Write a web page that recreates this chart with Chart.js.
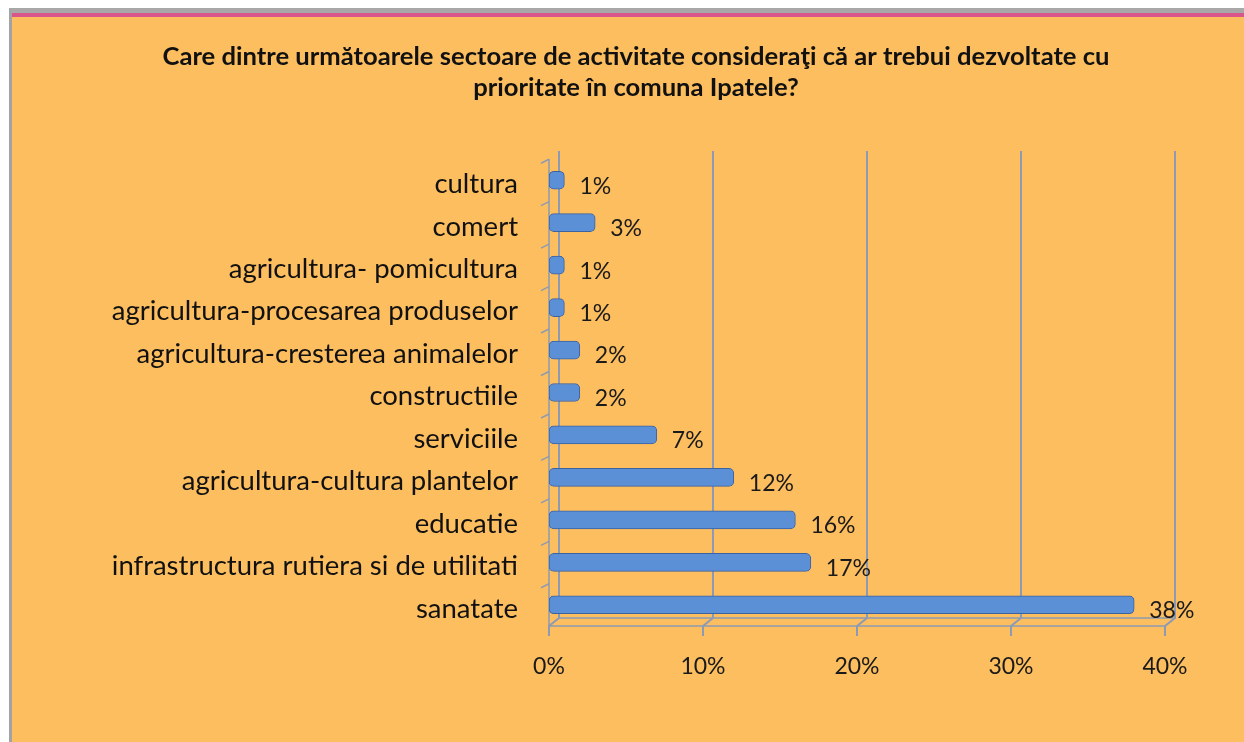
<!DOCTYPE html>
<html>
<head>
<meta charset="utf-8">
<script src="https://cdn.jsdelivr.net/npm/chart.js@4.4.0/dist/chart.umd.min.js"></script>
<style>
  html, body { margin: 0; padding: 0; background: #fff; }
  body { width: 1244px; height: 742px; position: relative; overflow: hidden; }
  .frame { position: absolute; left: 9px; top: 8px; right: 0; bottom: 0;
           border-left: 3px solid #a3a3a3; border-top: 5px solid #a8a8a8; background: #fdbe5f; }
  .pink { position: absolute; left: 0; right: 0; top: 0; height: 4px; background: #d8568a; }
  #chart { position: absolute; left: 0; top: 0; }
</style>
</head>
<body>
<div class="frame"><div class="pink"></div></div>
<canvas id="chart" width="1244" height="742"></canvas>
<script>
// answers, top to bottom
const categories = ['cultura', 'comert', 'agricultura- pomicultura', 'agricultura-procesarea produselor',
  'agricultura-cresterea animalelor', 'constructiile', 'serviciile', 'agricultura-cultura plantelor',
  'educatie', 'infrastructura rutiera si de utilitati', 'sanatate'];
const percents = [1, 3, 1, 1, 2, 2, 7, 12, 16, 17, 38];
const xTicks = [0, 10, 20, 30, 40];

const titleLines = ['Care dintre următoarele sectoare de activitate consideraţi că ar trebui dezvoltate cu',
  'prioritate în comuna Ipatele?'];

const FONT = 'Lato, Carlito, Calibri, "Open Sans", sans-serif';

const titlePlugin = {
  id: 'titleText',
  afterDraw(chart) {
    const ctx = chart.ctx;
    ctx.save();
    ctx.fillStyle = '#111';
    ctx.font = 'bold 25.6px ' + FONT;
    ctx.textAlign = 'center';
    ctx.textBaseline = 'middle';
    ctx.fillText(titleLines[0], 636, 57);
    ctx.fillText(titleLines[1], 636, 88);
    ctx.restore();
  }
};

// back wall grid lines, drawn with a small depth offset like the 3D original
const backWall = {
  id: 'backWall',
  beforeDatasetsDraw(chart) {
    const ctx = chart.ctx, a = chart.chartArea, x = chart.scales.x;
    const dx = 10, dy = 8;
    ctx.save();
    ctx.strokeStyle = '#8d9ab3';
    ctx.lineWidth = 2;
    xTicks.forEach(v => {
      const px = x.getPixelForValue(v);
      ctx.beginPath();
      ctx.moveTo(px + dx, a.top - dy);
      ctx.lineTo(px + dx, a.bottom - dy);
      ctx.lineTo(px, a.bottom);
      ctx.lineTo(px, a.bottom + 10);
      ctx.stroke();
    });
    // floor front edge and left wall
    ctx.lineWidth = 1.5;
    ctx.beginPath();
    ctx.moveTo(x.getPixelForValue(0), a.bottom);
    ctx.lineTo(x.getPixelForValue(40), a.bottom);
    ctx.moveTo(x.getPixelForValue(0) + dx, a.bottom - dy);
    ctx.lineTo(x.getPixelForValue(40) + dx, a.bottom - dy);
    ctx.moveTo(x.getPixelForValue(0), a.top);
    ctx.lineTo(x.getPixelForValue(0), a.bottom);
    ctx.stroke();
    const y = chart.scales.y;
    categories.forEach((c, i) => {
      const py = y.getPixelForValue(i) - 21;
      ctx.beginPath();
      ctx.moveTo(x.getPixelForValue(0) - 8, py + 4);
      ctx.lineTo(x.getPixelForValue(0), py);
      ctx.stroke();
    });
    ctx.restore();
  }
};

const valueLabels = {
  id: 'valueLabels',
  afterDatasetsDraw(chart) {
    const ctx = chart.ctx;
    const meta = chart.getDatasetMeta(0);
    ctx.save();
    ctx.fillStyle = '#1a1a1a';
    ctx.font = '23px ' + FONT;
    ctx.textAlign = 'left';
    ctx.textBaseline = 'middle';
    meta.data.forEach((bar, i) => {
      ctx.fillText(percents[i] + '%', bar.x + 15, bar.y + 6);
    });
    ctx.restore();
  }
};

const ctx = document.getElementById('chart').getContext('2d');

new Chart(ctx, {
  type: 'bar',
  data: {
    labels: categories,
    datasets: [{
      data: percents,
      backgroundColor(c) {
        const el = c.element;
        if (!el || el.y === undefined) return '#5b8fd6';
        const g = c.chart.ctx.createLinearGradient(0, el.y - 9, 0, el.y + 9);
        g.addColorStop(0, '#9cc0ee');
        g.addColorStop(0.35, '#6497dc');
        g.addColorStop(0.8, '#4d7fc4');
        g.addColorStop(1, '#3a68a8');
        return g;
      },
      borderColor: '#3c62a0',
      borderWidth: 1,
      borderRadius: 5,
      borderSkipped: false,
      barThickness: 18
    }]
  },
  options: {
    responsive: false,
    animation: false,
    indexAxis: 'y',
    layout: { padding: { top: 159, right: 79, bottom: 0, left: 0 } },
    plugins: { legend: { display: false }, tooltip: { enabled: false }, title: { display: false } },
    scales: {
      x: {
        min: 0, max: 40,
        afterBuildTicks(s) { s.ticks = xTicks.map(v => ({ value: v })); },
        afterFit(s) { s.height = 116; },
        grid: { display: false, drawTicks: false },
        border: { display: false },
        ticks: { padding: 27, color: '#1a1a1a', font: { family: FONT, size: 23 }, callback: v => v + '%' }
      },
      y: {
        afterFit(s) { s.width = 549; },
        grid: { display: false },
        border: { display: false },
        ticks: { padding: 23, labelOffset: 4, color: '#111', font: { family: FONT, size: 27.5 } }
      }
    }
  },
  plugins: [titlePlugin, backWall, valueLabels]
});
</script>
</body>
</html>
